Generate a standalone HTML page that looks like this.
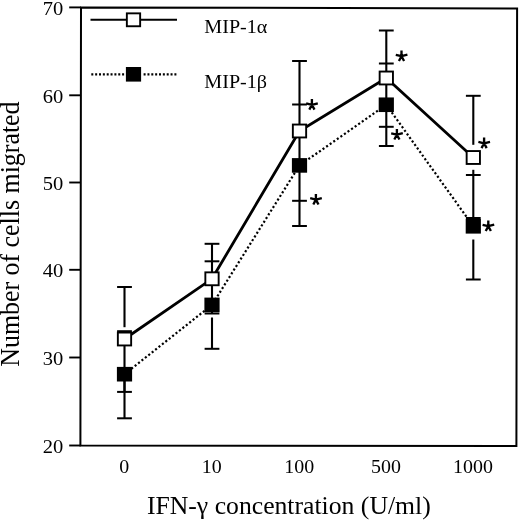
<!DOCTYPE html>
<html><head><meta charset="utf-8"><title>chart</title>
<style>
html,body{margin:0;padding:0;background:#fff;}
body{width:520px;height:521px;overflow:hidden;}
svg{display:block;will-change:transform;filter:grayscale(1) blur(0.35px);}
text{font-family:"Liberation Serif",serif;fill:#000;}
</style></head><body>
<svg width="520" height="521" viewBox="0 0 520 521">
<rect x="0" y="0" width="520" height="521" fill="#fff"/>
<polygon points="81.0,7.4 517.1,8.4 516.4,445.9 80.4,445.5" fill="none" stroke="#000" stroke-width="2.0" stroke-linejoin="miter"/>
<line x1="69.2" y1="7.4" x2="80.8" y2="7.4" stroke="#000" stroke-width="1.9"/>
<text transform="translate(63.30,14.60) scale(1.07,1)" font-size="19.2" text-anchor="end" >70</text>
<line x1="69.2" y1="95.3" x2="80.8" y2="95.3" stroke="#000" stroke-width="1.9"/>
<text transform="translate(63.30,102.50) scale(1.07,1)" font-size="19.2" text-anchor="end" >60</text>
<line x1="69.2" y1="182.5" x2="80.8" y2="182.5" stroke="#000" stroke-width="1.9"/>
<text transform="translate(63.30,189.70) scale(1.07,1)" font-size="19.2" text-anchor="end" >50</text>
<line x1="69.2" y1="269.8" x2="80.8" y2="269.8" stroke="#000" stroke-width="1.9"/>
<text transform="translate(63.30,277.00) scale(1.07,1)" font-size="19.2" text-anchor="end" >40</text>
<line x1="69.2" y1="357.5" x2="80.8" y2="357.5" stroke="#000" stroke-width="1.9"/>
<text transform="translate(63.30,364.70) scale(1.07,1)" font-size="19.2" text-anchor="end" >30</text>
<line x1="69.2" y1="445.5" x2="80.8" y2="445.5" stroke="#000" stroke-width="1.9"/>
<text transform="translate(63.30,452.70) scale(1.07,1)" font-size="19.2" text-anchor="end" >20</text>
<text transform="translate(124.20,472.50) scale(1.06,1)" font-size="18.8" text-anchor="middle" >0</text>
<text transform="translate(211.70,472.50) scale(1.06,1)" font-size="18.8" text-anchor="middle" >10</text>
<text transform="translate(299.20,472.50) scale(1.06,1)" font-size="18.8" text-anchor="middle" >100</text>
<text transform="translate(386.00,472.50) scale(1.06,1)" font-size="18.8" text-anchor="middle" >500</text>
<text transform="translate(473.00,472.50) scale(1.06,1)" font-size="18.8" text-anchor="middle" >1000</text>
<text transform="translate(146.90,513.80) scale(1.028,1)" font-size="25" text-anchor="start" >IFN-γ concentration (U/ml)</text>
<text transform="translate(19.4,366.7) scale(1.06,1) rotate(-90)" font-size="25.9">Number of cells migrated</text>
<line x1="90.5" y1="19.8" x2="177" y2="19.8" stroke="#000" stroke-width="1.9"/>
<line x1="91.3" y1="74.3" x2="124.2" y2="74.3" stroke="#000" stroke-width="2.2" stroke-dasharray="2 1.85"/>
<line x1="143.6" y1="74.3" x2="176.5" y2="74.3" stroke="#000" stroke-width="2.2" stroke-dasharray="2 1.85"/>
<rect x="126.85" y="13.35" width="13.30" height="12.90" fill="#fff" stroke="#000" stroke-width="1.9"/>
<rect x="125.90" y="67.00" width="15.20" height="14.60" fill="#000"/>
<text transform="translate(204.30,33.40) scale(1.1,1)" font-size="18.3" text-anchor="start" >MIP-1α</text>
<text transform="translate(204.30,88.40) scale(1.1,1)" font-size="18.3" text-anchor="start" >MIP-1β</text>
<line x1="124.5" y1="287" x2="124.5" y2="327.2" stroke="#000" stroke-width="2.1"/>
<line x1="124.5" y1="331" x2="124.5" y2="392" stroke="#000" stroke-width="2.1"/>
<line x1="124.5" y1="381" x2="124.5" y2="418.3" stroke="#000" stroke-width="2.1"/>
<line x1="117.1" y1="287" x2="131.9" y2="287" stroke="#000" stroke-width="2.0"/>
<line x1="117.1" y1="331.2" x2="131.9" y2="331.2" stroke="#000" stroke-width="2.0"/>
<line x1="117.1" y1="391.9" x2="131.9" y2="391.9" stroke="#000" stroke-width="2.0"/>
<line x1="117.1" y1="418.3" x2="131.9" y2="418.3" stroke="#000" stroke-width="2.0"/>
<line x1="212.0" y1="243.8" x2="212.0" y2="313.8" stroke="#000" stroke-width="2.1"/>
<line x1="212.0" y1="317.5" x2="212.0" y2="348.8" stroke="#000" stroke-width="2.1"/>
<line x1="204.6" y1="243.8" x2="219.4" y2="243.8" stroke="#000" stroke-width="2.0"/>
<line x1="204.6" y1="261.3" x2="219.4" y2="261.3" stroke="#000" stroke-width="2.0"/>
<line x1="204.6" y1="313.5" x2="219.4" y2="313.5" stroke="#000" stroke-width="2.0"/>
<line x1="204.6" y1="348.8" x2="219.4" y2="348.8" stroke="#000" stroke-width="2.0"/>
<line x1="299.5" y1="61" x2="299.5" y2="226" stroke="#000" stroke-width="2.1"/>
<line x1="292.1" y1="61" x2="306.9" y2="61" stroke="#000" stroke-width="2.0"/>
<line x1="292.1" y1="104.5" x2="306.9" y2="104.5" stroke="#000" stroke-width="2.0"/>
<line x1="292.1" y1="200.8" x2="306.9" y2="200.8" stroke="#000" stroke-width="2.0"/>
<line x1="292.1" y1="226" x2="306.9" y2="226" stroke="#000" stroke-width="2.0"/>
<line x1="386.3" y1="30.5" x2="386.3" y2="146" stroke="#000" stroke-width="2.1"/>
<line x1="378.90000000000003" y1="30.5" x2="393.7" y2="30.5" stroke="#000" stroke-width="2.0"/>
<line x1="378.90000000000003" y1="63.5" x2="393.7" y2="63.5" stroke="#000" stroke-width="2.0"/>
<line x1="378.90000000000003" y1="126.8" x2="393.7" y2="126.8" stroke="#000" stroke-width="2.0"/>
<line x1="378.90000000000003" y1="146" x2="393.7" y2="146" stroke="#000" stroke-width="2.0"/>
<line x1="473.3" y1="95.8" x2="473.3" y2="144.8" stroke="#000" stroke-width="2.1"/>
<line x1="473.3" y1="169.8" x2="473.3" y2="226" stroke="#000" stroke-width="2.1"/>
<line x1="473.3" y1="239.5" x2="473.3" y2="279.5" stroke="#000" stroke-width="2.1"/>
<line x1="465.90000000000003" y1="95.8" x2="480.7" y2="95.8" stroke="#000" stroke-width="2.0"/>
<line x1="465.90000000000003" y1="175" x2="480.7" y2="175" stroke="#000" stroke-width="2.0"/>
<line x1="465.90000000000003" y1="218.0" x2="480.7" y2="218.0" stroke="#000" stroke-width="2.0"/>
<line x1="465.90000000000003" y1="279.5" x2="480.7" y2="279.5" stroke="#000" stroke-width="2.0"/>
<polyline points="124.5,374.2 212.0,304.9 299.5,165.4 386.3,104.75 473.3,226.3" fill="none" stroke="#000" stroke-width="2.2" stroke-dasharray="2.1 2.25"/>
<polyline points="124.5,339.0 212.0,278.8 299.5,131.0 386.3,78.0 473.3,157.5" fill="none" stroke="#000" stroke-width="2.8" stroke-linejoin="miter"/>
<rect x="116.90" y="366.90" width="15.20" height="14.60" fill="#000"/>
<rect x="204.40" y="297.60" width="15.20" height="14.60" fill="#000"/>
<rect x="291.90" y="158.10" width="15.20" height="14.60" fill="#000"/>
<rect x="378.70" y="97.45" width="15.20" height="14.60" fill="#000"/>
<rect x="465.70" y="219.00" width="15.20" height="14.60" fill="#000"/>
<rect x="117.85" y="332.55" width="13.30" height="12.90" fill="#fff" stroke="#000" stroke-width="1.9"/>
<rect x="205.35" y="272.35" width="13.30" height="12.90" fill="#fff" stroke="#000" stroke-width="1.9"/>
<rect x="292.85" y="124.55" width="13.30" height="12.90" fill="#fff" stroke="#000" stroke-width="1.9"/>
<rect x="379.65" y="71.55" width="13.30" height="12.90" fill="#fff" stroke="#000" stroke-width="1.9"/>
<rect x="466.65" y="151.05" width="13.30" height="12.90" fill="#fff" stroke="#000" stroke-width="1.9"/>
<path d="M311.90 104.80L311.90 99.10M311.90 104.80L317.82 103.32M311.90 104.80L306.18 103.37M311.90 104.80L314.48 109.66M311.90 104.80L309.32 109.66" stroke="#000" stroke-width="2.35" fill="none"/>
<path d="M315.90 199.60L315.90 193.90M315.90 199.60L321.82 198.12M315.90 199.60L310.18 198.17M315.90 199.60L318.48 204.46M315.90 199.60L313.32 204.46" stroke="#000" stroke-width="2.35" fill="none"/>
<path d="M401.50 56.20L401.50 50.50M401.50 56.20L407.42 54.72M401.50 56.20L395.78 54.77M401.50 56.20L404.08 61.06M401.50 56.20L398.92 61.06" stroke="#000" stroke-width="2.35" fill="none"/>
<path d="M396.90 134.70L396.90 129.00M396.90 134.70L402.82 133.22M396.90 134.70L391.18 133.27M396.90 134.70L399.48 139.56M396.90 134.70L394.32 139.56" stroke="#000" stroke-width="2.35" fill="none"/>
<path d="M484.10 143.30L484.10 137.60M484.10 143.30L490.02 141.82M484.10 143.30L478.38 141.87M484.10 143.30L486.68 148.16M484.10 143.30L481.52 148.16" stroke="#000" stroke-width="2.35" fill="none"/>
<path d="M488.30 226.20L488.30 220.50M488.30 226.20L494.22 224.72M488.30 226.20L482.58 224.77M488.30 226.20L490.88 231.06M488.30 226.20L485.72 231.06" stroke="#000" stroke-width="2.35" fill="none"/>
</svg></body></html>
